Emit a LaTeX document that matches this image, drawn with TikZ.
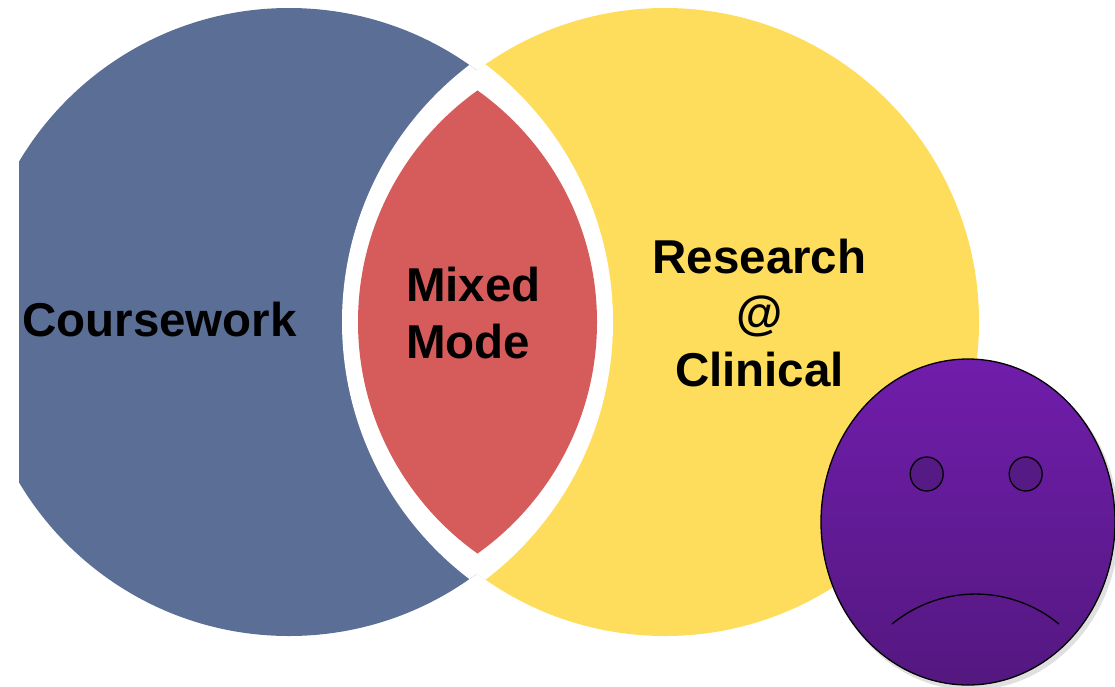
\documentclass[tikz,border=0pt]{standalone}
\usepackage{fontspec}
\setmainfont{Liberation Sans}
\usetikzlibrary{calc}
\definecolor{cblue}{HTML}{5B6E96}
\definecolor{cyellow}{HTML}{FEDD5C}
\definecolor{cred}{HTML}{D65B5B}
\definecolor{facetop}{RGB}{112,29,171}
\definecolor{facebot}{RGB}{84,24,128}
\definecolor{eyecol}{RGB}{86,26,133}
\tikzset{
  lbl/.style={font=\fontsize{47.5}{56.7}\selectfont\bfseries, text=black, inner sep=0pt, align=center},
  faceline/.style={draw=black, line width=1.3pt},
}
\begin{document}
\begin{tikzpicture}[x=1pt,y=-1pt]
\useasboundingbox (0,0) rectangle (1115,686);
\coordinate (bc) at (289,322);
\coordinate (yc) at (665,322);
% blue circle
\begin{scope}
  \clip (19,0) rectangle (1115,686);
  \fill[cblue] (bc) circle[radius=314pt];
\end{scope}
% yellow circle
\fill[cyellow] (yc) circle[radius=314pt];
% white gaps
\begin{scope}
  \clip (bc) circle[radius=314pt];
  \fill[white] (yc) circle[radius=323pt];
\end{scope}
\begin{scope}
  \clip (yc) circle[radius=314pt];
  \fill[white] (bc) circle[radius=324pt];
\end{scope}
% red lens
\begin{scope}
  \clip (313,322) circle[radius=284pt];
  \fill[cred] (642,322) circle[radius=284pt];
\end{scope}
% labels
\node[lbl, anchor=base] (course) at (159.5,336) {Coursework};
\node[lbl, align=left, anchor=west] (mixed) at (406,313) {Mixed\\Mode};
\node[lbl] (research) at (759.5,313) {Research\\@\\Clinical};
% sad face
\coordinate (fc) at (968,522);
\fill[black, opacity=0.12] ($(fc)+(3,4)$) ellipse[x radius=148pt, y radius=164pt];
\shade[top color=facetop, bottom color=facebot] (fc) ellipse[x radius=147pt, y radius=163pt];
\draw[faceline] (fc) ellipse[x radius=147pt, y radius=163pt];
\coordinate (le) at (926.7,474);
\coordinate (re) at (1025.7,474);
\fill[eyecol] (le) ellipse[x radius=16.5pt, y radius=17pt];
\draw[faceline] (le) ellipse[x radius=16.5pt, y radius=17pt];
\fill[eyecol] (re) ellipse[x radius=16.5pt, y radius=17pt];
\draw[faceline] (re) ellipse[x radius=16.5pt, y radius=17pt];
\coordinate (ml) at (892,624);
\draw[faceline] (ml) arc[start angle=129.5, end angle=50.5, radius=131.2pt];
\end{tikzpicture}
\end{document}
